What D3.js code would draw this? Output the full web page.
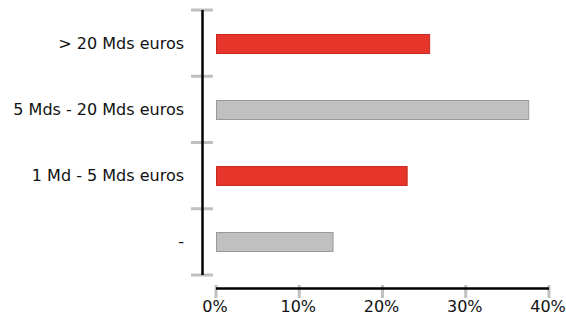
<!DOCTYPE html>
<html>
<head>
<meta charset="utf-8">
<script src="https://cdn.jsdelivr.net/npm/d3@7"></script>
<style>
  body { margin: 0; background: #fff; }
  text { font-family: "DejaVu Sans", Verdana, sans-serif; font-size: 16px; fill: #111; }
</style>
</head>
<body>
<svg id="chart" width="566" height="315"></svg>
<script>
// categories, top to bottom
var categories = ["> 20 Mds euros", "5 Mds - 20 Mds euros", "1 Md - 5 Mds euros", "-"];
var values = [25.6, 37.5, 22.9, 14.0];
var barColors = ["#e8352c", "#c0c0c0", "#e8352c", "#c0c0c0"];
var barStrokes = ["#c42a22", "#999999", "#c42a22", "#999999"];
var xTicks = [0, 10, 20, 30, 40];

var svg = d3.select("#chart");

var x = d3.scaleLinear().domain([0, 40]).range([216, 549]);
var y = d3.scaleBand().domain(categories).range([10, 275]).paddingInner(0.71).paddingOuter(0.355);

// bars
svg.selectAll("rect.bar")
  .data(values)
  .enter().append("rect")
  .attr("class", "bar")
  .attr("x", x(0) + 0.5)
  .attr("y", function(d, i) { return Math.round(y(categories[i])) + 0.5; })
  .attr("width", function(d) { return x(d) - x(0); })
  .attr("height", Math.round(y.bandwidth()))
  .attr("fill", function(d, i) { return barColors[i]; })
  .attr("stroke", function(d, i) { return barStrokes[i]; })
  .attr("stroke-width", 1);

// y axis: gray ticks at band boundaries, black line
var bounds = categories.map(function(c) { return y(c) - y.step() * y.paddingInner() / 2; });
bounds.push(275);
bounds[0] = 10;
svg.selectAll("line.ytick")
  .data(bounds)
  .enter().append("line")
  .attr("x1", 191).attr("x2", 213)
  .attr("y1", function(d) { return d; }).attr("y2", function(d) { return d; })
  .attr("stroke", "#c0c0c0").attr("stroke-width", 3);

svg.append("line")
  .attr("x1", 202.5).attr("x2", 202.5).attr("y1", 10).attr("y2", 275)
  .attr("stroke", "#000").attr("stroke-width", 2.5);

svg.selectAll("text.ylab")
  .data(categories)
  .enter().append("text")
  .attr("x", 184)
  .attr("y", function(c) { return y(c) + y.bandwidth() / 2; })
  .attr("dy", "0.35em")
  .attr("text-anchor", "end")
  .text(function(c) { return c; });

// x axis
svg.selectAll("line.xtick")
  .data(xTicks)
  .enter().append("line")
  .attr("x1", function(d) { return x(d); }).attr("x2", function(d) { return x(d); })
  .attr("y1", 285).attr("y2", 298)
  .attr("stroke", "#c0c0c0").attr("stroke-width", 3);

svg.append("line")
  .attr("x1", x(0)).attr("x2", x(40)).attr("y1", 288.5).attr("y2", 288.5)
  .attr("stroke", "#000").attr("stroke-width", 2.5);

svg.selectAll("text.xlab")
  .data(xTicks)
  .enter().append("text")
  .attr("x", function(d) { return x(d) - 1; })
  .attr("y", 312)
  .attr("text-anchor", "middle")
  .text(function(d) { return d + "%"; });
</script>
</body>
</html>
